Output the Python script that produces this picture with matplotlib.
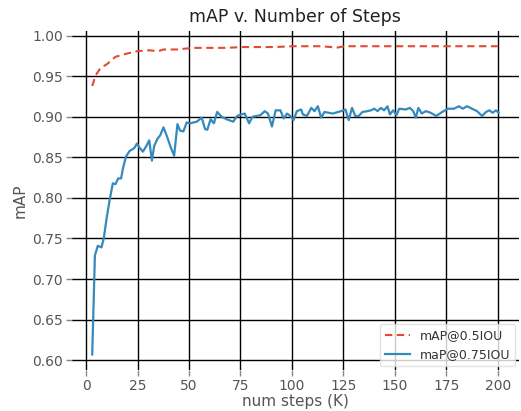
import numpy as np
import matplotlib
matplotlib.use("Agg")
import matplotlib.pyplot as plt

# mAP@0.5IOU
steps_50 = [3.0, 4.6, 7.0, 10.2, 14.3, 19.9, 25.0, 30.4, 35.2, 37.6, 44.1, 52.1,
            60.0, 68.0, 76.0, 84.4, 92.0, 100.0, 108.0, 114.0, 119.0, 121.0,
            126.0, 135.0, 145.0, 155.0, 165.0, 175.0, 185.0, 195.0, 200.0]
map_50 = [0.938, 0.951, 0.960, 0.965, 0.974, 0.978, 0.981, 0.982, 0.981, 0.983,
          0.983, 0.985, 0.985, 0.985, 0.986, 0.986, 0.986, 0.987, 0.987, 0.987,
          0.986, 0.985, 0.987, 0.987, 0.987, 0.987, 0.987, 0.987, 0.987, 0.987,
          0.987]

# maP@0.75IOU
steps_75 = [3.0, 4.3, 5.7, 7.5, 8.6, 10.0, 11.5, 13.0, 14.3, 15.6, 17.0, 18.0,
            19.4, 21.2, 22.6, 23.6, 24.7, 26.0, 27.6, 29.3, 30.7, 32.0, 33.1,
            34.7, 36.0, 37.6, 39.3, 41.2, 42.8, 44.4, 45.7, 47.3, 48.9, 50.5,
            53.8, 56.2, 57.8, 58.9, 60.5, 62.1, 63.7, 65.9, 68.3, 71.5, 73.4,
            75.5, 77.1, 79.2, 80.8, 82.8, 84.7, 86.8, 88.4, 90.3, 92.1, 94.4,
            96.0, 97.6, 99.2, 100.8, 102.4, 104.5, 105.3, 107.3, 109.4, 111.0,
            112.6, 114.2, 115.8, 119.8, 123.9, 126.0, 127.6, 129.2, 130.8,
            132.4, 134.3, 136.8, 138.4, 140.0, 141.6, 143.2, 144.8, 146.4,
            147.6, 149.2, 150.8, 152.1, 155.3, 157.3, 158.9, 160.2, 161.4,
            163.1, 165.0, 167.4, 170.1, 173.0, 175.9, 178.7, 181.1, 183.0,
            185.1, 187.5, 189.9, 192.4, 194.3, 195.9, 197.5, 199.1, 200.4]
map_75 = [0.607, 0.729, 0.741, 0.739, 0.750, 0.775, 0.798, 0.818, 0.817, 0.824,
          0.824, 0.837, 0.851, 0.858, 0.860, 0.862, 0.867, 0.862, 0.857, 0.864,
          0.871, 0.846, 0.864, 0.873, 0.877, 0.887, 0.876, 0.862, 0.852, 0.891,
          0.883, 0.882, 0.893, 0.892, 0.894, 0.899, 0.885, 0.884, 0.897, 0.892,
          0.906, 0.900, 0.897, 0.894, 0.901, 0.903, 0.904, 0.892, 0.900, 0.901,
          0.902, 0.907, 0.904, 0.888, 0.908, 0.908, 0.898, 0.904, 0.901, 0.896,
          0.907, 0.909, 0.903, 0.901, 0.911, 0.907, 0.913, 0.899, 0.906, 0.904,
          0.907, 0.909, 0.896, 0.911, 0.901, 0.901, 0.906, 0.907, 0.908, 0.910,
          0.907, 0.911, 0.908, 0.913, 0.903, 0.908, 0.902, 0.910, 0.909, 0.911,
          0.907, 0.899, 0.911, 0.904, 0.907, 0.905, 0.901, 0.906, 0.910, 0.910,
          0.913, 0.910, 0.913, 0.910, 0.907, 0.901, 0.906, 0.908, 0.905, 0.908,
          0.905]

fig = plt.figure(figsize=(5.21, 4.11), dpi=100)
ax = fig.add_axes([0.138, 0.10, 0.858, 0.825])

ax.plot(steps_50, map_50, color="#E24A33", linestyle="--", linewidth=1.5,
        dashes=(3.5, 2.2), label="mAP@0.5IOU")
ax.plot(steps_75, map_75, color="#348ABD", linewidth=1.6,
        label="maP@0.75IOU")

ax.set_xticks([0, 25, 50, 75, 100, 125, 150, 175, 200])
ax.set_yticks(np.arange(0.60, 1.001, 0.05))
ax.yaxis.set_major_formatter(matplotlib.ticker.FormatStrFormatter('%.2f'))
ax.grid(True, color="black", linewidth=1.0)
ax.set_axisbelow(True)
for s in ax.spines.values():
    s.set_visible(False)
ax.tick_params(colors="#555555", labelsize=10, length=4, width=1,
               color="#888888", pad=2.5)

ax.set_xlabel("num steps (K)", color="#555555", fontsize=11, labelpad=1)
ax.set_ylabel("mAP", color="#555555", fontsize=11, labelpad=3)
ax.set_title("mAP v. Number of Steps", fontsize=12.5, color="#222222")

leg = ax.legend(loc="lower right", fontsize=9, frameon=True, borderaxespad=0.3)
leg.get_frame().set_edgecolor("#dddddd")
for t in leg.get_texts():
    t.set_color("#333333")

fig.savefig("out.png", dpi=100)
